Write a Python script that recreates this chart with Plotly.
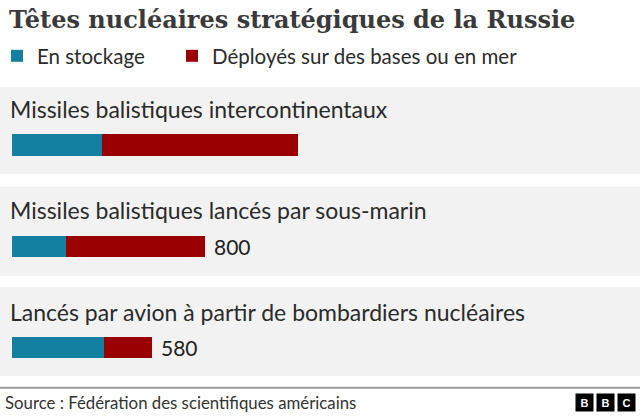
import plotly.graph_objects as go

categories = [
    "Missiles balistiques intercontinentaux",
    "Missiles balistiques lancés par sous-marin",
    "Lancés par avion à partir de bombardiers nucléaires",
]
stockage = [373, 224, 380]
deployes = [812, 576, 200]
value_labels = ["", "800", "580"]

title_text = "Têtes nucléaires stratégiques de la Russie"
source_text = "Source : Fédération des scientifiques américains"
series_names = ["En stockage", "Déployés sur des bases ou en mer"]

BLUE = "#1380A1"
RED = "#990000"
PANEL = "#f2f2f2"
TEXT = "#2b2b2b"
SANS = "Lato, 'Noto Sans', sans-serif"

W, H = 640, 418

def py(px):
    return 1 - px / H

fig = go.Figure()
fig.add_trace(go.Bar(
    y=categories, x=stockage, orientation="h", name=series_names[0],
    marker=dict(color=BLUE, line=dict(width=0)), width=0.212,
    hoverinfo="x+name", legend="legend",
))
fig.add_trace(go.Bar(
    y=categories, x=deployes, orientation="h", name=series_names[1],
    marker=dict(color=RED, line=dict(width=0)), width=0.212,
    hoverinfo="x+name", legend="legend2",
))

shapes = []
panel_tops = [87, 186.5, 287]
panel_bots = [174, 276, 376]
for t, b in zip(panel_tops, panel_bots):
    shapes.append(dict(type="rect", xref="paper", yref="paper",
                       x0=0, x1=1, y0=py(b), y1=py(t),
                       fillcolor=PANEL, line=dict(width=0), layer="below"))
shapes.append(dict(type="line", xref="paper", yref="paper",
                   x0=0, x1=1, y0=py(387.7), y1=py(387.7),
                   line=dict(color="#9a9a9a", width=2)))

annotations = []
for cat in categories:
    annotations.append(dict(
        x=8 / W, xref="paper", y=cat, yref="y", yshift=36,
        text=cat, showarrow=False, xanchor="left", yanchor="middle",
        font=dict(family=SANS, size=23, color=TEXT),
    ))
for cat, s, d, lab in zip(categories, stockage, deployes, value_labels):
    if lab:
        annotations.append(dict(
            x=s + d, xref="x", y=cat, yref="y", xshift=7,
            text=lab, showarrow=False, xanchor="left", yanchor="middle",
            font=dict(family=SANS, size=21, color="#222222"),
        ))
annotations.append(dict(
    x=3 / W, xref="paper", y=py(402), yref="paper",
    text=source_text, showarrow=False, xanchor="left", yanchor="middle",
    font=dict(family=SANS, size=16.8, color="#333333"),
))
for i, letter in enumerate(["B", "B", "C"]):
    annotations.append(dict(
        x=(575 + 21 * i) / W, xref="paper", y=py(402), yref="paper",
        text="<b>" + letter + "</b>", showarrow=False,
        xanchor="left", yanchor="middle",
        width=17, height=17, bgcolor="#000000", borderpad=0,
        font=dict(family="Liberation Sans", size=11, color="#ffffff"),
    ))

scale = 0.242  # px per unit
x0px = 11.7
legend_common = dict(orientation="h", xanchor="left", y=py(56), yanchor="middle",
                     font=dict(family=SANS, size=20.5, color=TEXT),
                     bgcolor="rgba(0,0,0,0)")
fig.update_layout(
    width=W, height=H,
    margin=dict(l=0, r=0, t=0, b=0, autoexpand=False),
    paper_bgcolor="white", plot_bgcolor="rgba(0,0,0,0)",
    barmode="stack",
    title=dict(text=title_text, x=9 / W, xanchor="left", xref="paper",
               y=py(20), yanchor="middle", yref="paper",
               font=dict(family="DejaVu Serif", size=24, color="#3a3a3a", weight="bold")),
    xaxis=dict(range=[-x0px / scale, (W - x0px) / scale], visible=False, fixedrange=True),
    yaxis=dict(type="category", categoryorder="array", categoryarray=categories,
               range=[(H - 145) / 101.35, -145 / 101.35], visible=False, fixedrange=True),
    showlegend=True,
    legend=dict(x=-3 / W, **legend_common),
    legend2=dict(x=172 / W, **legend_common),
    shapes=shapes,
    annotations=annotations,
)

fig.write_html("out.html", config={"displayModeBar": False},
               post_script="document.body.style.margin='0';")
